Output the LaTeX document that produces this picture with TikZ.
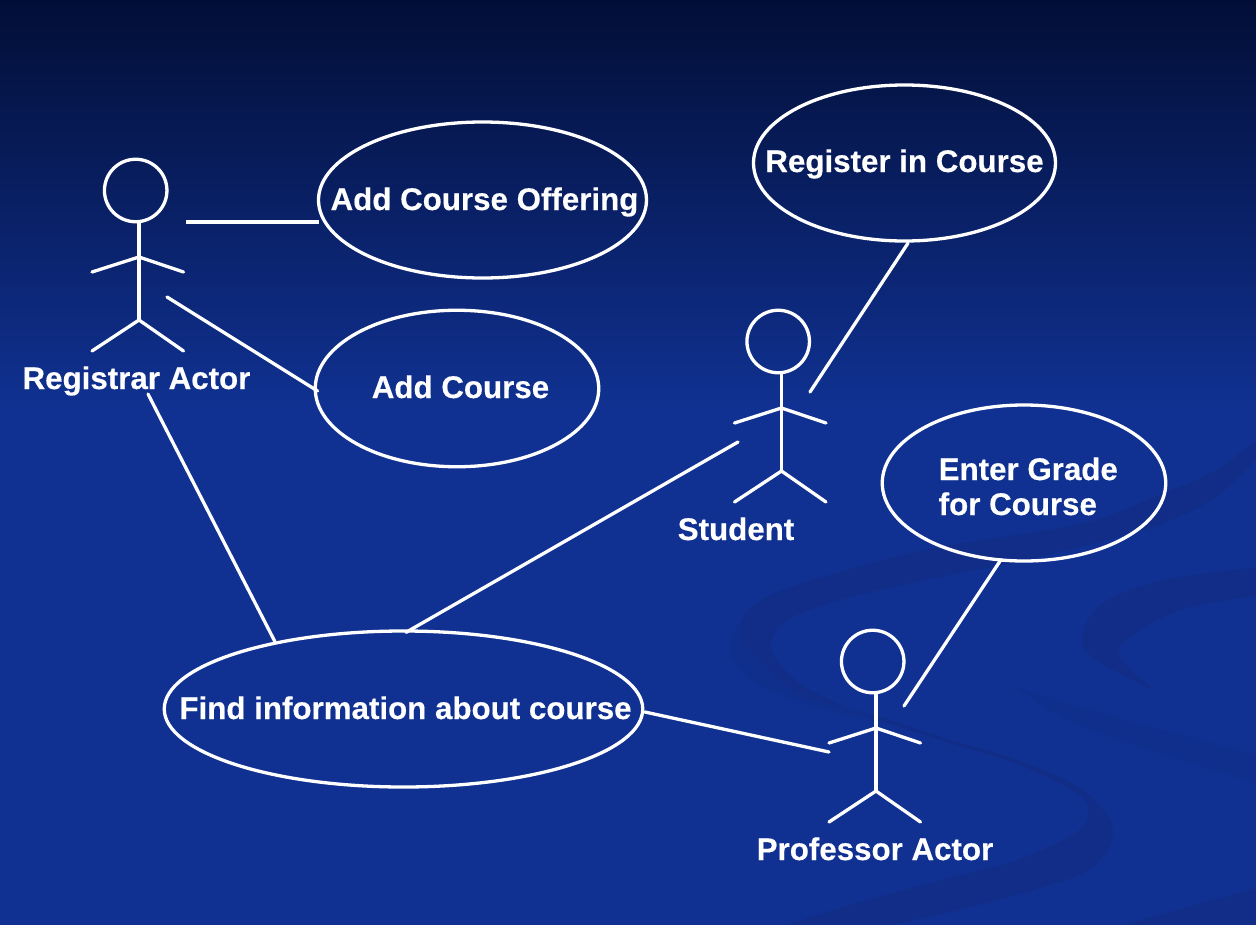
\documentclass[tikz,border=0pt]{standalone}
\usepackage{fontspec}
\setmainfont{Liberation Sans}[BoldFeatures={FakeBold=0.35}]
\usetikzlibrary{shapes.geometric}
\definecolor{bgtop}{HTML}{020E36}
\definecolor{bgmain}{HTML}{103191}
\definecolor{swoosh}{HTML}{112D88}
\definecolor{swooshfaint}{HTML}{102F8D}
\tikzset{
  x=1pt,y=-1pt,
  wire/.style={draw=white,line width=3.3pt,line cap=round,line join=round},
  usecase/.style={ellipse,draw=white,line width=3.3pt,inner sep=0pt},
  head/.style={circle,draw=white,line width=3.3pt,inner sep=0pt,minimum size=62.5pt},
  lbl/.style={text=white,font=\fontsize{31.3}{35}\selectfont\bfseries,inner sep=0pt,anchor=base},
}
\newcommand{\stickman}[3]{%
  \node[head] (#1) at (#2-3.3,#3-129.5) {};
  \coordinate (#1neck) at (#2,#3-97);
  \coordinate (#1hip) at (#2,#3);
  \coordinate (#1sh) at (#2,#3-63);
  \draw[wire] (#1neck) -- (#1hip);
  \draw[wire] (#2-47,#3-48) -- (#1sh) -- (#2+44.5,#3-48);
  \draw[wire] (#2-47,#3+31) -- (#1hip) -- (#2+44.5,#3+31);
}
\begin{document}
\begin{tikzpicture}
\useasboundingbox (0,0) rectangle (1256,924);
\fill[bgmain] (-2,-2) rectangle (1258,926);
\shade[top color=bgtop,bottom color=bgmain] (-2,-2) rectangle (1258,405);
% background swooshes
\begin{scope}
\clip (-2,-2) rectangle (1258,926);
\fill[swooshfaint] plot[smooth,tension=0.6] coordinates {(745,615) (730,648) (752,680) (806,704) (877,722)}
  -- plot[smooth,tension=0.6] coordinates {(877,716) (806,697) (764,667) (742,633) (745,615)} -- cycle;
\fill[swoosh] plot[smooth,tension=0.6] coordinates {(1260,437) (1216,470) (1164,493) (1096,520) (1028,533) (925,550) (823,577) (761,600) (740,630) (764,667) (806,697) (877,716) (950,740) (1017,760) (1083,790) (1113,830) (1093,867) (1040,888) (950,912) (877,928)}
  -- plot[smooth,tension=0.6] coordinates {(778,928) (850,905) (950,878) (1017,860) (1077,832) (1088,810) (1075,792) (1017,764) (950,743) (877,719) (824,697) (792,677) (771,647) (788,620) (840,600) (925,580) (1011,563) (1096,543) (1164,523) (1216,497) (1260,455)} -- cycle;
\fill[swoosh] plot[smooth,tension=0.6] coordinates {(1260,567) (1164,580) (1103,603) (1082,637) (1096,660) (1154,690)}
  -- plot[smooth,tension=0.6] coordinates {(1154,690) (1120,657) (1130,637) (1181,610) (1260,595)} -- cycle;
\fill[swooshfaint] plot[smooth,tension=0.6] coordinates {(1017,687) (1083,708) (1260,756)}
  -- plot[smooth,tension=0.6] coordinates {(1260,784) (1083,727) (1017,687)} -- cycle;
\fill[swoosh] (1260,887) -- (1127,924) -- (1120,928) -- (1260,928) -- cycle;
\end{scope}
% use cases
\node[usecase,minimum width=328pt,minimum height=156pt] (offering) at (482.5,200) {};
\node[usecase,minimum width=283.5pt,minimum height=156.5pt] (addcourse) at (457,388.5) {};
\node[usecase,minimum width=302pt,minimum height=156pt] (register) at (904.5,163) {};
\node[usecase,minimum width=283.5pt,minimum height=156pt] (grade) at (1024,483) {};
\node[usecase,minimum width=478.5pt,minimum height=156pt] (find) at (403.5,709) {};
\node[lbl] (offeringtxt) at (484.5,210) {Add Course Offering};
\node[lbl] (addcoursetxt) at (460.5,398) {Add Course};
\node[lbl] (registertxt) at (904.5,172) {Register in Course};
\node[lbl,anchor=base west] (gradetxta) at (938.5,480) {Enter Grade};
\node[lbl,anchor=base west] (gradetxtb) at (938.5,515) {for Course};
\node[lbl] (findtxt) at (405.5,719) {Find information about course};
% actors
\stickman{registrar}{139}{320}
\stickman{student}{781.5}{471}
\stickman{professor}{876}{791}
\node[lbl] (registrarname) at (136.5,389) {Registrar Actor};
\node[lbl] (studentname) at (736,540) {Student};
\node[lbl] (professorname) at (875,860) {Professor Actor};
% connector free ends
\coordinate (regA) at (186,222);
\coordinate (regB) at (167,297);
\coordinate (regC) at (148,394);
\coordinate (stuA) at (810,392);
\coordinate (stuB) at (738,442);
\coordinate (proA) at (904,706);
\coordinate (proB) at (829,752);
% connectors
\draw[wire,line cap=butt] (regA) -- ([xshift=1.75pt,yshift=-22pt]offering.west);
\draw[wire] (regB) -- ([xshift=4pt,yshift=-2.5pt]addcourse.west);
\draw[wire] (regC) -- ([xshift=-1.5pt]find.152.8);
\draw[wire] (stuA) -- ([xshift=3.5pt,yshift=-0.5pt]register.south);
\draw[wire] (stuB) -- ([xshift=2.5pt,yshift=-3pt]find.north);
\draw[wire] (proA) -- ([xshift=-23pt,yshift=3pt]grade.south);
\draw[wire] (proB) -- ([xshift=0.5pt,yshift=-3pt]find.east);
\end{tikzpicture}
\end{document}
